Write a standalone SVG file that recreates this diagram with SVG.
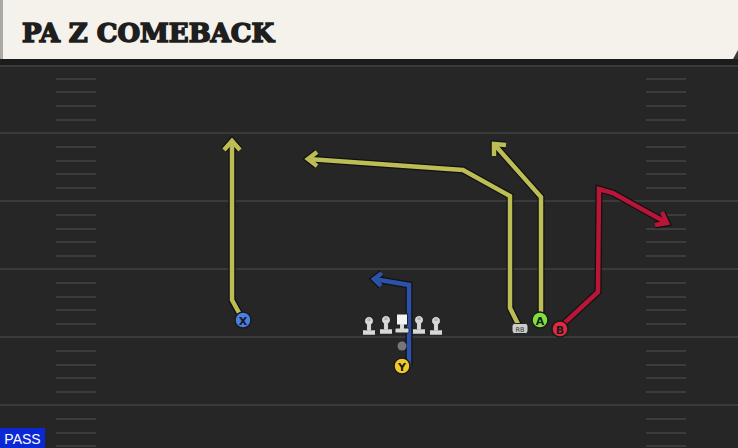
<svg xmlns="http://www.w3.org/2000/svg" width="738" height="448" viewBox="0 0 738 448">
<style>
.yard{stroke:#3a3a3a;stroke-width:2}
.hash{stroke:#3c3c3c;stroke-width:2}
.out{fill:none;stroke:#111;stroke-width:7;stroke-linejoin:miter;stroke-linecap:butt}
.ry{fill:none;stroke:#bdbd55;stroke-width:4.5;stroke-linejoin:miter}
.rb{fill:none;stroke:#2b52a8;stroke-width:4.5;stroke-linejoin:miter}
.rr{fill:none;stroke:#b81538;stroke-width:4.5;stroke-linejoin:miter}
.pl{stroke:#1a1a1a;stroke-width:1.5}
.lbl{font-family:"DejaVu Sans",sans-serif;font-weight:bold;font-size:11px;text-anchor:middle;fill:#1a1a1a}
.ol{fill:#d8d8d8;stroke:#222;stroke-width:1}
</style>
<defs>
<g id="lineman">
<circle cx="0" cy="-5" r="4.2" class="ol"/>
<rect x="-6.5" y="4" width="13" height="5" rx="1" class="ol"/>
<rect x="-2.2" y="-3" width="4.4" height="7.5" fill="#d8d8d8" stroke="#222" stroke-width="0.8"/>
<circle cx="0" cy="-5" r="3.7" fill="#d8d8d8"/>
<rect x="-1.8" y="-3" width="3.6" height="7.8" fill="#d8d8d8"/>
<rect x="-6" y="4.5" width="12" height="4" fill="#d8d8d8"/>
<rect x="-1.6" y="-7.5" width="3.2" height="2.5" fill="#9a9a9a" opacity="0.6"/>
</g>
</defs>
<rect width="738" height="448" fill="#262626"/>
<rect x="0" y="58" width="738" height="8" fill="#1c1c1c"/>
<g id="field">
<line class="yard" x1="0" y1="66" x2="738" y2="66"/>
<line class="yard" x1="0" y1="133" x2="738" y2="133"/>
<line class="yard" x1="0" y1="201" x2="738" y2="201"/>
<line class="yard" x1="0" y1="269" x2="738" y2="269"/>
<line class="yard" x1="0" y1="337" x2="738" y2="337"/>
<line class="yard" x1="0" y1="405" x2="738" y2="405"/>
<path class="hash" d="M56 79H96M56 92H96M56 106H96M56 120H96M56 147H96M56 161H96M56 174H96M56 188H96M56 215H96M56 229H96M56 242H96M56 256H96M56 283H96M56 297H96M56 310H96M56 324H96M56 351H96M56 365H96M56 378H96M56 392H96M56 419H96M56 433H96M56 446H96"/>
<path class="hash" d="M646 79H686M646 92H686M646 106H686M646 120H686M646 147H686M646 161H686M646 174H686M646 188H686M646 215H686M646 229H686M646 242H686M646 256H686M646 283H686M646 297H686M646 310H686M646 324H686M646 351H686M646 365H686M646 378H686M646 392H686M646 419H686M646 433H686M646 446H686"/>
</g>
<g id="header">
<rect x="0" y="0" width="738" height="59" fill="#f5f2eb"/>
<rect x="0" y="0" width="3" height="59" fill="#a9aaa6"/>
<polygon points="733,59 738,50 738,59" fill="#3a3a3a"/>
<text x="22" y="42" font-family="'DejaVu Serif', serif" font-weight="bold" font-size="26" fill="#1e1e1e" stroke="#1e1e1e" stroke-width="1.6" textLength="252" lengthAdjust="spacingAndGlyphs">PA Z COMEBACK</text>
</g>
<g id="connectors">
<polyline class="out" points="243,320 232,300 232,142"/>
<polyline class="out" points="224,150 232,141 240,150"/>
<polyline class="out" points="519,326 510,308 510,196 463,170 308,159"/>
<polyline class="out" points="317,152 308,159 317,166"/>
<polyline class="out" points="541,320 541,197 494,144"/>
<polyline class="out" points="494,156 494,144 506,145"/>
<polyline class="out" points="559,328 598,292 599,189 613,193 667,223"/>
<polyline class="out" points="655,225 667,223 662,212"/>
<polyline class="out" points="409,366 409,285 374,279"/>
<polyline class="out" points="382,273 374,279 381,286"/>
<polyline class="ry" points="243,320 232,300 232,142"/>
<polyline class="ry" points="224,150 232,141 240,150"/>
<polyline class="ry" points="519,326 510,308 510,196 463,170 308,159"/>
<polyline class="ry" points="317,152 308,159 317,166"/>
<polyline class="ry" points="541,320 541,197 494,144"/>
<polyline class="ry" points="494,156 494,144 506,145"/>
<polyline class="rr" points="559,328 598,292 599,189 613,193 667,223"/>
<polyline class="rr" points="655,225 667,223 662,212"/>
<polyline class="rb" points="409,366 409,285 374,279"/>
<polyline class="rb" points="382,273 374,279 381,286"/>
</g>
<g id="line">
<use href="#lineman" x="369" y="326"/>
<use href="#lineman" x="386" y="325"/>
<use href="#lineman" x="419" y="325"/>
<use href="#lineman" x="436" y="326"/>
<rect x="396.5" y="314" width="11" height="11" fill="#f4f4f4" stroke="#222" stroke-width="1"/>
<rect x="395" y="328" width="14" height="5" rx="1" fill="#d8d8d8" stroke="#222" stroke-width="1"/>
<rect x="400" y="324" width="4" height="6" fill="#d8d8d8"/>
</g>
<g id="ball"><circle cx="402" cy="346" r="4.5" fill="#777"/></g>
<g id="X"><circle cx="243" cy="320" r="8" fill="#4a7ee0" class="pl"/><text x="243" y="324.5" class="lbl">X</text></g>
<g id="A"><circle cx="540" cy="320" r="8" fill="#7ee040" class="pl"/><text x="540" y="324.5" class="lbl">A</text></g>
<g id="B"><circle cx="560" cy="329" r="8" fill="#e02a40" class="pl"/><text x="560" y="333.5" class="lbl">B</text></g>
<g id="Y"><circle cx="402" cy="366" r="8" fill="#f0c828" class="pl"/><text x="402" y="370.5" class="lbl">Y</text></g>
<g id="RB"><rect x="512" y="323.5" width="16" height="10" rx="2.5" fill="#ccc" stroke="#222" stroke-width="1"/><text x="520" y="331.5" font-family="'DejaVu Sans',sans-serif" font-size="6.5" text-anchor="middle" fill="#333">RB</text></g>
<g id="pass"><rect x="0" y="428" width="45" height="20" fill="#0b28d6"/><text x="22.5" y="444" font-family="'Liberation Sans',sans-serif" font-size="14" text-anchor="middle" fill="#fff">PASS</text></g>
</svg>
